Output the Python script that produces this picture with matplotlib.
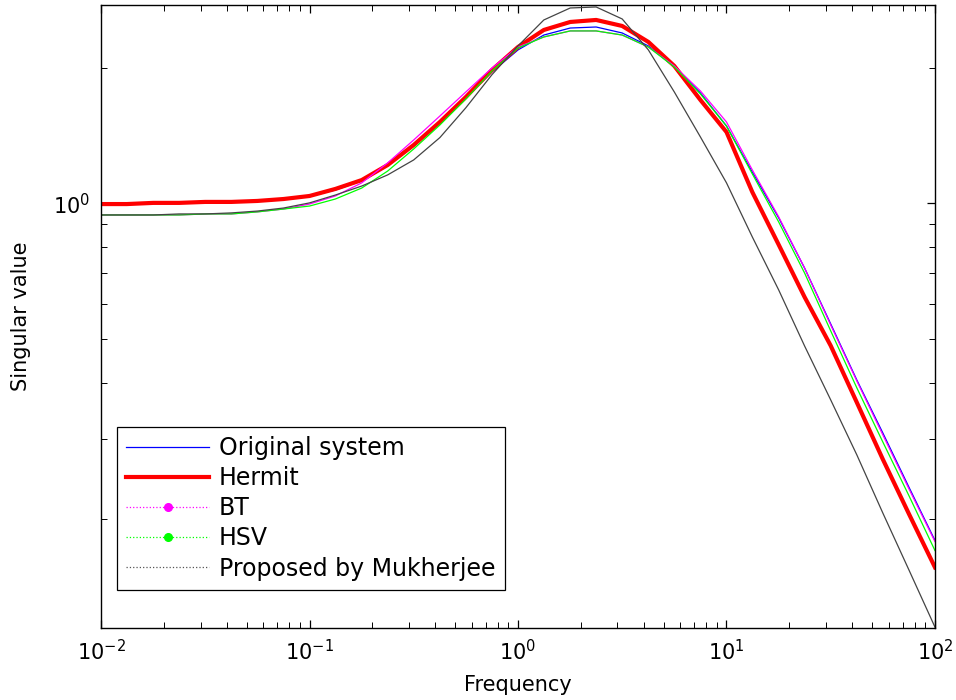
import numpy as np
import matplotlib
matplotlib.use('Agg')
import matplotlib.pyplot as plt
from matplotlib.lines import Line2D
from matplotlib.ticker import LogLocator, NullFormatter

plt.rcParams['font.family'] = ['DejaVu Sans']
plt.rcParams['mathtext.default'] = 'regular'

# frequency points the curves were read at
freq = [0.01, 0.0133, 0.0178, 0.0237, 0.0316, 0.0422, 0.0562, 0.075,
        0.1, 0.133, 0.178, 0.237, 0.316, 0.422, 0.562, 0.75,
        1.0, 1.33, 1.78, 2.37, 3.16, 4.22, 5.62, 7.5,
        10, 13.3, 17.8, 23.7, 31.6, 42.2, 56.2, 75, 100]

original = [0.997, 0.997, 1.003, 1.003, 1.008, 1.008, 1.013, 1.023,
            1.039, 1.071, 1.122, 1.211, 1.341, 1.508, 1.714, 1.957,
            2.190, 2.363, 2.449, 2.462, 2.388, 2.235, 2.008, 1.758,
            1.485, 1.174, 0.929, 0.719, 0.541, 0.406, 0.310, 0.235, 0.179]

hermit = [0.997, 0.997, 1.003, 1.003, 1.008, 1.008, 1.013, 1.023,
          1.039, 1.077, 1.127, 1.217, 1.348, 1.516, 1.722, 1.977,
          2.223, 2.425, 2.526, 2.552, 2.475, 2.281, 2.018, 1.696,
          1.440, 1.060, 0.810, 0.620, 0.484, 0.362, 0.271, 0.205, 0.156]

bt = [0.943, 0.943, 0.943, 0.943, 0.948, 0.948, 0.958, 0.972,
      0.997, 1.039, 1.111, 1.230, 1.383, 1.563, 1.767, 1.997,
      2.223, 2.340, 2.413, 2.413, 2.363, 2.223, 2.018, 1.776,
      1.516, 1.187, 0.934, 0.719, 0.538, 0.404, 0.307, 0.233, 0.178]

hsv = [0.943, 0.943, 0.943, 0.943, 0.948, 0.948, 0.958, 0.972,
       0.987, 1.023, 1.082, 1.180, 1.321, 1.493, 1.705, 1.967,
       2.212, 2.340, 2.413, 2.413, 2.363, 2.223, 2.008, 1.749,
       1.485, 1.163, 0.910, 0.701, 0.522, 0.390, 0.296, 0.225, 0.170]

mukherjee = [0.943, 0.943, 0.943, 0.948, 0.948, 0.953, 0.962, 0.977,
             1.003, 1.044, 1.093, 1.157, 1.249, 1.400, 1.630, 1.930,
             2.235, 2.552, 2.713, 2.727, 2.565, 2.190, 1.767, 1.404,
             1.111, 0.843, 0.643, 0.483, 0.367, 0.277, 0.206, 0.154, 0.115]

labels = ['Original system', 'Hermit', 'BT', 'HSV', 'Proposed by Mukherjee']

fig = plt.figure(figsize=(9.56, 7.0), dpi=100)
ax = fig.add_axes([0.1057, 0.1029, 0.8723, 0.8900])

ax.loglog(freq, original, color='#0000ff', lw=0.9)
ax.loglog(freq, hermit, color='#ff0000', lw=3.0)
ax.loglog(freq, bt, color='#ff00ff', lw=0.9)
ax.loglog(freq, hsv, color='#00ff00', lw=0.9)
ax.loglog(freq, mukherjee, color='#444444', lw=0.9)

ax.set_xlim(0.01, 100)
ax.set_ylim(0.1145, 2.755)

ax.yaxis.set_major_locator(LogLocator(base=10))
ax.yaxis.set_minor_locator(LogLocator(base=10, subs=np.arange(2, 10)))
ax.yaxis.set_minor_formatter(NullFormatter())
ax.xaxis.set_minor_locator(LogLocator(base=10, subs=np.arange(2, 10)))
ax.xaxis.set_minor_formatter(NullFormatter())

ax.tick_params(which='both', direction='in', top=True, right=True,
               labelsize=15, pad=8)
ax.tick_params(which='major', length=6, width=0.9)
ax.tick_params(which='minor', length=4, width=0.7)
for s in ax.spines.values():
    s.set_linewidth(1.0)

ax.set_xlabel('Frequency', fontsize=15, labelpad=8)
ax.set_ylabel('Singular value', fontsize=15, labelpad=16)

handles = [
    Line2D([], [], color='#0000ff', lw=0.9),
    Line2D([], [], color='#ff0000', lw=3.0),
    Line2D([], [], color='#ff00ff', lw=0.9, ls=':', marker='.', markersize=11),
    Line2D([], [], color='#00ff00', lw=0.9, ls=':', marker='.', markersize=11),
    Line2D([], [], color='#555555', lw=0.9, ls=':'),
]
leg = ax.legend(handles, labels, loc='lower left', bbox_to_anchor=(0.019, 0.061),
                fontsize=17, numpoints=1, handlelength=3.5, handletextpad=0.42,
                labelspacing=0.26, borderpad=0.4, fancybox=False, framealpha=1,
                edgecolor='black', borderaxespad=0)
leg.get_frame().set_linewidth(0.9)

fig.savefig('out.png', dpi=100)
